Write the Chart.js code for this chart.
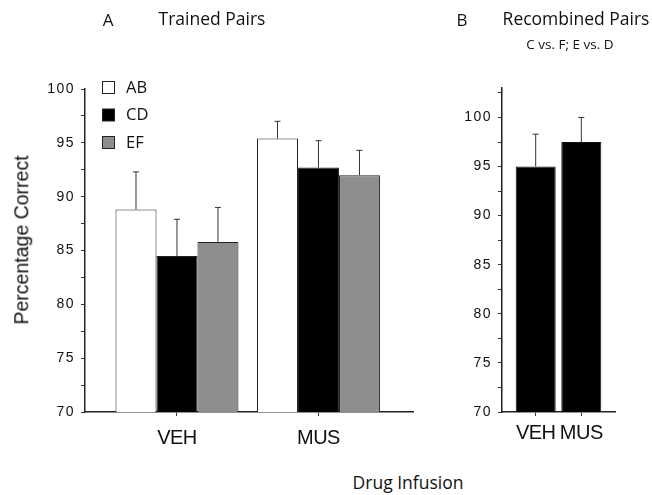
<!DOCTYPE html>
<html>
<head>
<meta charset="utf-8">
<script src="https://cdn.jsdelivr.net/npm/chart.js@4"></script>
<style>
  body { margin: 0; background: #fff; }
  #wrap { position: relative; width: 652px; height: 495px; overflow: hidden; background: #fff; }
  .box { position: absolute; }
  .txt { position: absolute; white-space: nowrap; color: #111; font-family: "Open Sans", sans-serif; line-height: 1; }
  .c { transform: translate(-50%, -50%); }
</style>
</head>
<body>
<div id="wrap">
  <div class="box" style="left:0;top:0;width:430px;height:460px"><canvas id="chartA"></canvas></div>
  <div class="box" style="left:440px;top:0;width:212px;height:460px"><canvas id="chartB"></canvas></div>

  <div class="txt c" style="left:108px;top:19px;font-size:17px">A</div>
  <div class="txt c" style="left:212px;top:19px;font-size:17.5px">Trained Pairs</div>
  <div class="txt c" style="left:462px;top:19px;font-size:17px">B</div>
  <div class="txt c" style="left:576px;top:19px;font-size:17.5px">Recombined Pairs</div>
  <div class="txt c" style="left:570px;top:45px;font-size:13.5px">C vs. F; E vs. D</div>
  <div class="txt c" style="left:22px;top:240px;font-size:19.5px;font-family:'Liberation Sans',Arial,sans-serif;transform:translate(-50%,-50%) rotate(-90deg)">Percentage Correct</div>
  <div class="txt c" style="left:408px;top:483px;font-size:17.5px">Drug Infusion</div>
</div>

<script>
// Datos
const groupsA = ["VEH", "MUS"];
const pairsA = ["AB", "CD", "EF"];
const meanAB = [88.8, 95.4];
const meanCD = [84.5, 92.7];
const meanEF = [85.8, 92.0];
const errAB = [3.5, 1.6];
const errCD = [3.4, 2.5];
const errEF = [3.2, 2.3];

const groupsB = ["VEH", "MUS"];
const meanRecomb = [95.0, 97.5];
const errRecomb = [3.3, 2.5];

const yTicks = [70, 75, 80, 85, 90, 95, 100];

const TICK_FONT = { family: "'Liberation Sans', Arial, sans-serif", size: 14 };
const XLAB_FONT = { family: "'Liberation Sans Narrow', 'Liberation Sans', Arial, sans-serif", size: 20 };

// Convertir en puntos {x, y} para la escala lineal
function toPoints(values) {
  return values.map((v, i) => ({ x: i + 1, y: v }));
}

// Espaciado de letras propio de cada eje
function withSpacing(px) {
  return (scale) => {
    if (scale._spaced) return;
    const orig = scale.drawLabels.bind(scale);
    scale.drawLabels = (area) => {
      const ctx = scale.ctx;
      const prev = ctx.letterSpacing;
      ctx.letterSpacing = px;
      orig(area);
      ctx.letterSpacing = prev;
    };
    scale._spaced = true;
  };
}

// Barras de error (sólo hacia arriba, con tope)
const errorBars = {
  id: "errorBars",
  afterDatasetsDraw(chart) {
    const ctx = chart.ctx;
    const yScale = chart.scales.y;
    chart.data.datasets.forEach((ds, di) => {
      const meta = chart.getDatasetMeta(di);
      meta.data.forEach((bar, i) => {
        const top = yScale.getPixelForValue(ds.data[i].y + ds.errors[i]);
        ctx.save();
        ctx.strokeStyle = "#333";
        ctx.lineWidth = 1;
        ctx.beginPath();
        ctx.moveTo(bar.x, bar.y);
        ctx.lineTo(bar.x, top);
        ctx.moveTo(bar.x - 3, top);
        ctx.lineTo(bar.x + 3, top);
        ctx.stroke();
        ctx.restore();
      });
    });
  },
};

// Leyenda dibujada dentro del área del gráfico
const insideLegend = {
  id: "insideLegend",
  afterDraw(chart) {
    const ctx = chart.ctx;
    ctx.save();
    chart.data.datasets.forEach((ds, i) => {
      const y = 81 + i * 27.5;
      ctx.fillStyle = ds.backgroundColor;
      ctx.strokeStyle = "#222";
      ctx.lineWidth = 1;
      ctx.fillRect(102.5, y + 0.5, 12, 12);
      ctx.strokeRect(102.5, y + 0.5, 12, 12);
      ctx.fillStyle = "#111";
      ctx.font = "16.5px 'Open Sans', sans-serif";
      ctx.textBaseline = "middle";
      ctx.fillText(ds.label, 126, y + 7);
    });
    ctx.restore();
  },
};

function yAxis(max, width) {
  return {
    type: "linear",
    min: 70,
    max: max,
    afterFit: (scale) => { scale.width = width; },
    afterUpdate: withSpacing("1.5px"),
    afterBuildTicks: (scale) => {
      const t = [];
      for (let v = 70; v <= max; v += 2.5) t.push({ value: v });
      scale.ticks = t;
    },
    ticks: {
      autoSkip: false,
      color: "#111",
      font: TICK_FONT,
      padding: 6,
      callback: (v) => (yTicks.includes(v) ? String(v) : ""),
    },
    grid: { drawOnChartArea: false, drawTicks: true, tickLength: 4, color: "#333" },
    border: { display: true, color: "#222", width: 1.5 },
  };
}

function xAxis(min, max, labels, pad) {
  return {
    type: "linear",
    offset: false,
    min: min,
    max: max,
    afterFit: (scale) => { scale.height = 48; },
    afterUpdate: withSpacing("-0.5px"),
    ticks: {
      stepSize: 1,
      includeBounds: false,
      color: "#111",
      font: XLAB_FONT,
      padding: pad,
      callback: (v) => labels[v - 1] || "",
    },
    grid: { offset: false, drawOnChartArea: false, drawTicks: true, tickLength: 4, color: "#333" },
    border: { display: true, color: "#222", width: 1.5 },
  };
}

// Panel A: pares entrenados
new Chart(document.getElementById("chartA"), {
  type: "bar",
  data: {
    datasets: [
      { label: pairsA[0], data: toPoints(meanAB), errors: errAB, backgroundColor: "#ffffff" },
      { label: pairsA[1], data: toPoints(meanCD), errors: errCD, backgroundColor: "#000000" },
      { label: pairsA[2], data: toPoints(meanEF), errors: errEF, backgroundColor: "#8e8e8e" },
    ].map((d) => Object.assign(d, {
      borderColor: "#222",
      borderWidth: 1,
      categoryPercentage: 0.869,
      barPercentage: 1.0,
    })),
  },
  options: {
    responsive: true,
    maintainAspectRatio: false,
    animation: false,
    layout: { padding: { left: 0, right: 17, top: 89, bottom: 0 } },
    plugins: { legend: { display: false }, tooltip: { enabled: false } },
    scales: { x: xAxis(0.35, 2.668, groupsA, 10), y: yAxis(100, 85) },
  },
  plugins: [errorBars, insideLegend],
});

// Panel B: pares recombinados
new Chart(document.getElementById("chartB"), {
  type: "bar",
  data: {
    datasets: [
      {
        label: "Recombined",
        data: toPoints(meanRecomb),
        errors: errRecomb,
        backgroundColor: "#000000",
        borderColor: "#111",
        borderWidth: 1,
        categoryPercentage: 1.0,
        barPercentage: 0.877,
      },
    ],
  },
  options: {
    responsive: true,
    maintainAspectRatio: false,
    animation: false,
    layout: { padding: { left: 0, right: 37, top: 88, bottom: 0 } },
    plugins: { legend: { display: false }, tooltip: { enabled: false } },
    scales: { x: xAxis(0.261, 2.739, groupsB, 5), y: yAxis(103, 62) },
  },
  plugins: [errorBars],
});
</script>
</body>
</html>
